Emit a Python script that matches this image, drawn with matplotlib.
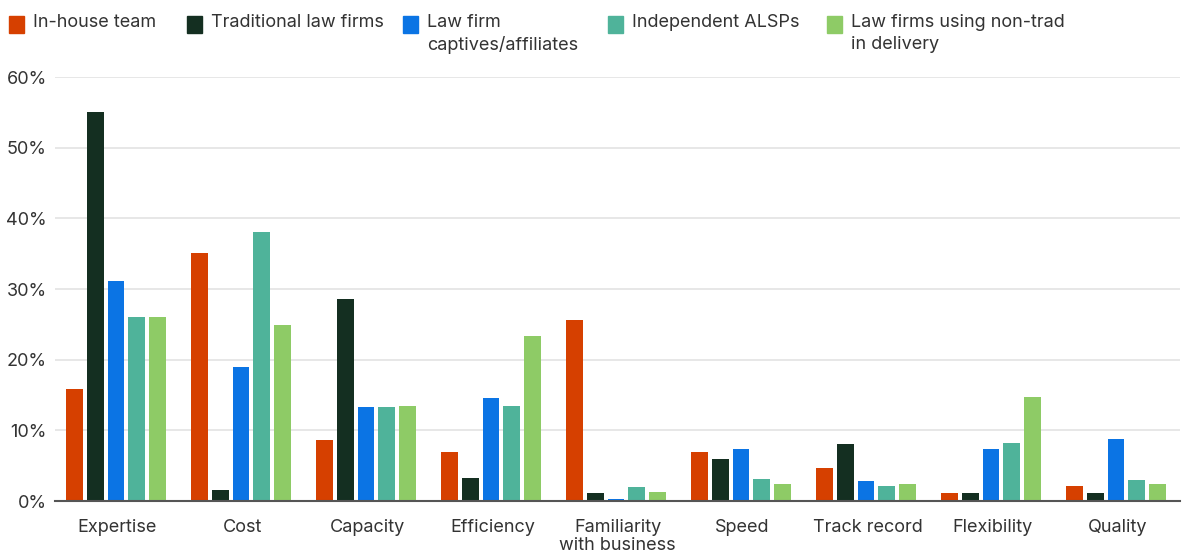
import numpy as np
import matplotlib.pyplot as plt
from matplotlib.patches import Rectangle

# categories and series (percent)
categories = ["Expertise", "Cost", "Capacity", "Efficiency", "Familiarity\nwith business",
              "Speed", "Track record", "Flexibility", "Quality"]
in_house = [15.9, 35.1, 8.6, 6.9, 25.6, 6.9, 4.7, 1.1, 2.1]
traditional = [55.0, 1.6, 28.6, 3.3, 1.1, 5.9, 8.1, 1.1, 1.1]
captives = [31.1, 19.0, 13.3, 14.6, 0.3, 7.4, 2.8, 7.4, 8.8]
alsps = [26.0, 38.1, 13.3, 13.4, 2.0, 3.1, 2.1, 8.2, 3.0]
non_trad = [26.0, 24.9, 13.4, 23.3, 1.3, 2.4, 2.4, 14.7, 2.4]

series = [in_house, traditional, captives, alsps, non_trad]
names = ["In-house team", "Traditional law firms", "Law firm\ncaptives/affiliates",
         "Independent ALSPs", "Law firms using non-trad\nin delivery"]
colors = ["#D64000", "#142F21", "#0B74E4", "#4FB39A", "#8ECB66"]

plt.rcParams['font.family'] = ['Inter', 'DejaVu Sans']
text_col = "#333333"

fig = plt.figure(figsize=(11.83, 5.54), dpi=100)
ax = fig.add_axes([55 / 1183, (554 - 501) / 554, 1125 / 1183, (501 - 77) / 554])

x = np.arange(len(categories))
pitch = 0.167
width = 0.135
for i, (vals, c) in enumerate(zip(series, colors)):
    ax.bar(x + (i - 2) * pitch - 0.012, vals, width, color=c, zorder=3)

ax.set_xlim(-0.5, len(categories) - 0.5)
ax.set_ylim(0, 60)
ax.set_yticks(range(0, 61, 10))
ax.set_yticklabels([f"{v}%" for v in range(0, 61, 10)])
ax.set_xticks(x)
ax.set_xticklabels(categories, linespacing=1.1)
ax.grid(axis='y', color='#e3e3e3', linewidth=1.2, zorder=0)
for s in ['top', 'right', 'left']:
    ax.spines[s].set_visible(False)
ax.spines['bottom'].set_color('#555555')
ax.spines['bottom'].set_linewidth(1.5)
ax.spines['bottom'].set_zorder(4)
ax.tick_params(axis='both', length=0, labelsize=13, colors=text_col)
ax.tick_params(axis='x', pad=13)
ax.tick_params(axis='y', pad=6)

# legend drawn by hand at the top
leg_x = [9, 187, 403, 608, 827]
for lx, name, c in zip(leg_x, names, colors):
    fig.patches.append(Rectangle((lx / 1183, 1 - 33 / 554), 15 / 1183, 17 / 554,
                                 transform=fig.transFigure, color=c))
    fig.text((lx + 24) / 1183, 1 - 14 / 554, name, fontsize=13, color=text_col,
             va='top', ha='left', linespacing=1.35,
             transform=fig.transFigure)

plt.savefig('out.png', dpi=100)
